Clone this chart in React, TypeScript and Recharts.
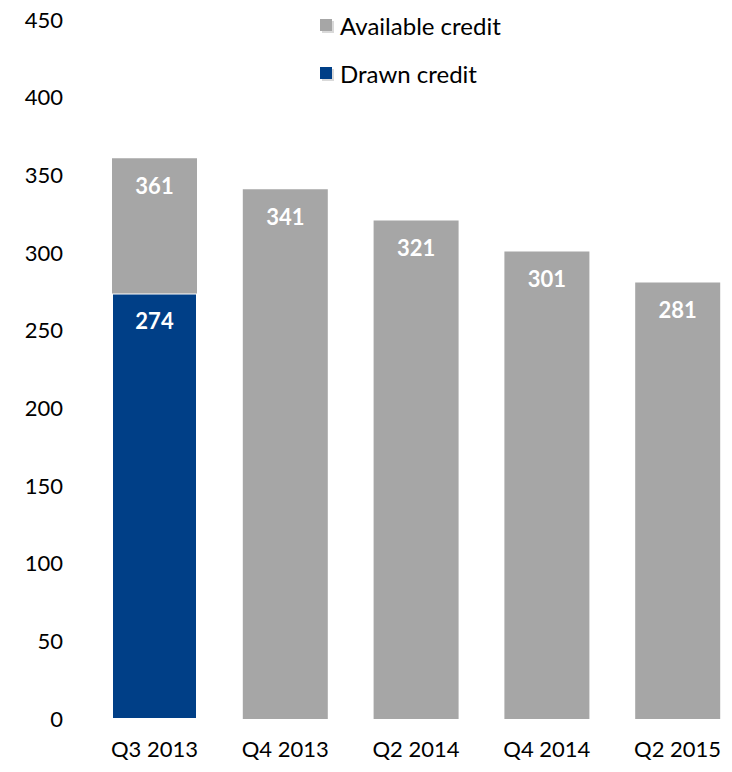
import { BarChart, Bar, XAxis, YAxis, LabelList } from 'recharts'

const quarters = ['Q3 2013', 'Q4 2013', 'Q2 2014', 'Q4 2014', 'Q2 2015']
const totalCredit = [361, 341, 321, 301, 281]
const drawnCredit = [274, 0, 0, 0, 0]
const yTicks = [0, 50, 100, 150, 200, 250, 300, 350, 400, 450]

const BLUE = '#003f87'
const GREY = '#a6a6a6'
const FONT = 'Lato, "Open Sans", sans-serif'

const data = quarters.map((q, i) => ({
  name: q,
  drawn: drawnCredit[i],
  available: totalCredit[i] - drawnCredit[i],
  total: totalCredit[i],
}))

function InsideTopLabel(props: any) {
  const { x, y, width, value } = props
  if (!value) return null
  return (
    <text
      x={x + width / 2}
      y={y + 30}
      textAnchor="middle"
      dominantBaseline="middle"
      fill="#fff"
      fontWeight={700}
      fontSize={22}
      fontFamily={FONT}
    >
      {value}
    </text>
  )
}

// legend sits over the chart, so it does not push the plot down
function LegendBox() {
  const items = [
    { label: 'Available credit', color: GREY },
    { label: 'Drawn credit', color: BLUE },
  ]
  return (
    <div style={{ position: 'absolute', left: 320, top: 1, fontFamily: FONT, fontSize: 24, color: '#000' }}>
      {items.map((it) => (
        <div key={it.label} style={{ display: 'flex', alignItems: 'center', height: 48 }}>
          <span
            style={{
              width: 12,
              height: 12,
              background: it.color,
              boxShadow: '2px 2px 0 #d9d9d9',
              marginRight: 8,
            }}
          />
          {it.label}
        </div>
      ))}
    </div>
  )
}

export default function App() {
  return (
    <div style={{ position: 'absolute', left: 0, top: 0, width: 732, height: 772, overflow: 'hidden', background: '#fff' }}>
      <BarChart width={743} height={772} data={data} margin={{ top: 20, right: 0, bottom: 0, left: 0 }}>
        <XAxis
          dataKey="name"
          height={53}
          axisLine={false}
          tickLine={false}
          tickSize={0}
          tickMargin={22}
          tick={{ fontSize: 22, fill: '#000', fontFamily: FONT }}
        />
        <YAxis
          domain={[0, 450]}
          ticks={yTicks}
          width={89}
          axisLine={false}
          tickLine={false}
          tickSize={0}
          tickMargin={26}
          tick={{ fontSize: 22, fill: '#000', fontFamily: FONT }}
        />
        <Bar dataKey="drawn" stackId="a" fill={BLUE} stroke="#fff" strokeWidth={2} barSize={85} isAnimationActive={false}>
          <LabelList dataKey="drawn" content={InsideTopLabel} />
        </Bar>
        <Bar dataKey="available" stackId="a" fill={GREY} barSize={85} isAnimationActive={false}>
          <LabelList dataKey="total" content={InsideTopLabel} />
        </Bar>
      </BarChart>
      <LegendBox />
    </div>
  )
}
